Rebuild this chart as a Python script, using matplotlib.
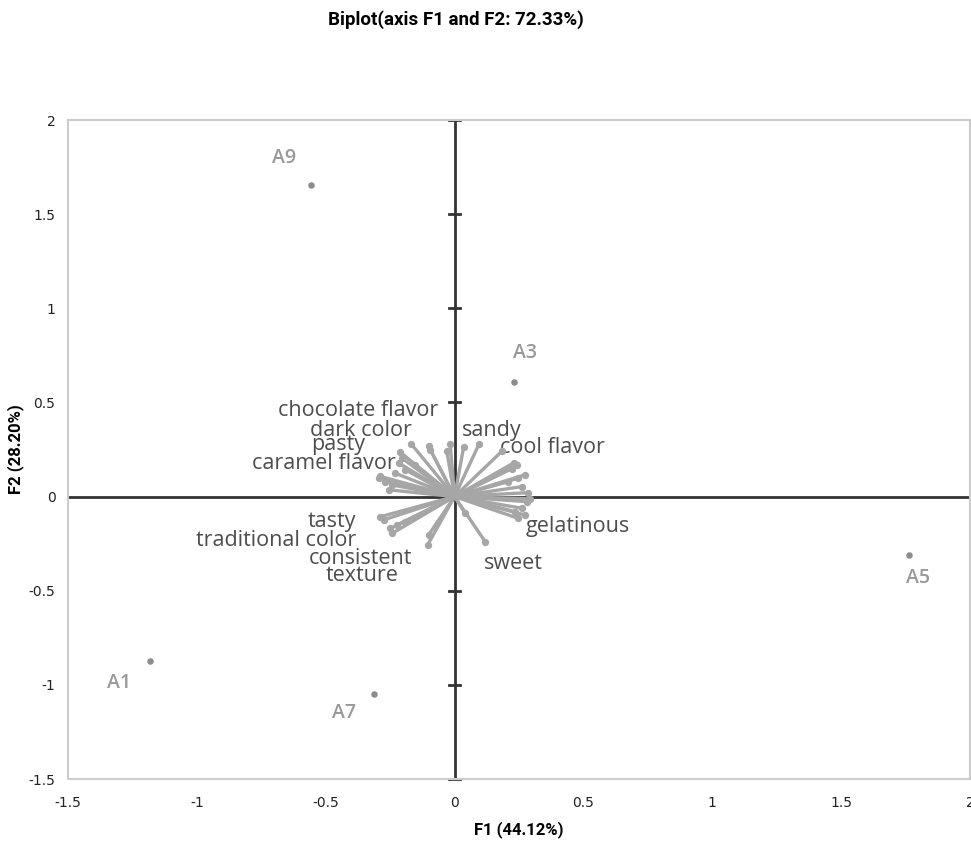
import matplotlib
matplotlib.use("Agg")
import matplotlib.pyplot as plt

# observations (F1, F2)
obs_names = ["A9", "A3", "A5", "A1", "A7"]
obs_f1 = [-0.557, 0.232, 1.765, -1.181, -0.314]
obs_f2 = [1.653, 0.608, -0.309, -0.875, -1.051]

# variable vectors (end points)
var_f1 = [-0.168, -0.101, -0.094, -0.030, -0.017, -0.210, -0.204, -0.217,
          -0.288, -0.294, -0.255, -0.230, -0.191, -0.152, -0.268, -0.243,
          0.035, 0.095, 0.183, 0.232, 0.241, 0.222, 0.274, 0.248, 0.209,
          0.286, 0.293, 0.261, 0.274, 0.261, 0.235, 0.248, 0.119, 0.041,
          0.280, -0.288, -0.275, -0.249, -0.243, -0.223, -0.101, -0.105,
          -0.191]
var_f2 = [0.279, 0.267, 0.249, 0.240, 0.279, 0.235, 0.204, 0.178,
          0.107, 0.098, 0.036, 0.124, 0.142, 0.169, 0.080, 0.062,
          0.261, 0.279, 0.240, 0.181, 0.169, 0.148, 0.116, 0.098, 0.080,
          0.021, -0.012, 0.053, -0.098, -0.062, -0.080, -0.116, -0.240, -0.089,
          -0.027, -0.107, -0.124, -0.169, -0.196, -0.151, -0.204, -0.258,
          -0.133]

var_labels = ["chocolate flavor", "dark color", "pasty", "caramel flavor",
              "sandy", "cool flavor", "gelatinous", "sweet",
              "tasty", "traditional color", "consistent", "texture"]

# where the labels sit (data coords) and which side they hang from
lab_pos = {
    "chocolate flavor": (-0.062, 0.459, "right"),
    "dark color": (-0.166, 0.352, "right"),
    "pasty": (-0.346, 0.277, "right"),
    "caramel flavor": (-0.228, 0.176, "right"),
    "sandy": (0.027, 0.352, "left"),
    "cool flavor": (0.178, 0.261, "left"),
    "gelatinous": (0.277, -0.157, "left"),
    "sweet": (0.112, -0.357, "left"),
    "tasty": (-0.383, -0.133, "right"),
    "traditional color": (-0.383, -0.235, "right"),
    "consistent": (-0.166, -0.330, "right"),
    "texture": (-0.216, -0.417, "right"),
}
obs_pos = {
    "A9": (-0.66, 1.80),
    "A3": (0.275, 0.76),
    "A5": (1.80, -0.435),
    "A1": (-1.30, -0.99),
    "A7": (-0.43, -1.15),
}

fig = plt.figure(figsize=(9.71, 8.41), dpi=100)
ax = fig.add_axes([0.070, 0.0737, 0.929, 0.7836])

ax.set_xlim(-1.5, 2)
ax.set_ylim(-1.5, 2)

vec_col = "#a6a6a6"
for x, y in zip(var_f1, var_f2):
    ax.plot([0, x], [0, y], color=vec_col, lw=2.4, solid_capstyle="round", zorder=3)
ax.scatter(var_f1, var_f2, s=28, color=vec_col, zorder=4, linewidths=0)

# centre axes with ticks
ax.axhline(0, color="#333333", lw=2, zorder=2)
ax.axvline(0, color="#333333", lw=2, zorder=2)
for yt in [-1.5, -1, -0.5, 0.5, 1, 1.5, 2]:
    ax.plot([-0.02, 0.02], [yt, yt], color="#333333", lw=2, zorder=2, clip_on=False)

ax.scatter(obs_f1, obs_f2, s=22, color="#8c8c8c", zorder=4, linewidths=0)
for n in obs_names:
    px, py = obs_pos[n]
    ax.text(px, py, n, fontsize=14, color="#999999", ha="center", va="center",
            family="Open Sans", fontweight="semibold")

for lab in var_labels:
    px, py, side = lab_pos[lab]
    ax.text(px, py, lab, fontsize=15.5, color="#4d4d4d", ha=side, va="center",
            family="Open Sans")

ax.set_xticks([-1.5, -1, -0.5, 0, 0.5, 1, 1.5, 2])
ax.set_xticklabels(["-1.5", "-1", "-0.5", "0", "0.5", "1", "1.5", "2"])
ax.set_yticks([-1.5, -1, -0.5, 0, 0.5, 1, 1.5, 2])
ax.set_yticklabels(["-1.5", "-1", "-0.5", "0", "0.5", "1", "1.5", "2"])
ax.tick_params(axis="x", length=0, labelsize=10, colors="#222222", pad=12)
ax.tick_params(axis="y", length=0, labelsize=10, colors="#222222", pad=9)
for s in ax.spines.values():
    s.set_color("#cccccc")
    s.set_linewidth(1.5)

ax.set_xlabel("F1 (44.12%)", fontsize=12, fontweight="bold", family="Roboto",
              labelpad=8)
ax.set_ylabel("F2 (28.20%)", fontsize=12, fontweight="bold", family="Roboto",
              labelpad=3)
fig.text(456 / 971, 1 - 20 / 841, "Biplot(axis F1 and F2: 72.33%)", fontsize=13.5,
         fontweight="bold", family="Roboto", ha="center", va="center")

fig.savefig("out.png", dpi=100)
